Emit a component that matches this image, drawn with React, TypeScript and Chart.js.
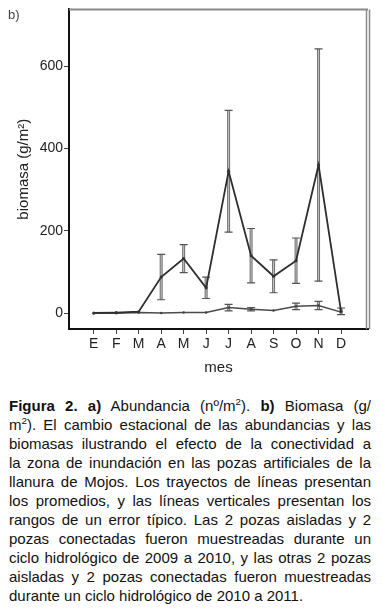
import React, { useEffect, useRef } from 'react';
import { Chart, registerables } from 'chart.js';

Chart.register(...registerables);

const months = ['E', 'F', 'M', 'A', 'M', 'J', 'J', 'A', 'S', 'O', 'N', 'D'];
const connectedMeans = [1, 2, 4, 88, 133, 62, 345, 140, 90, 128, 360, 5];
const connectedErrors = [0, 0, 0, 55, 34, 26, 148, 66, 40, 55, 282, 8];
const isolatedMeans = [0, 0, 2, 1, 2, 2, 14, 10, 7, 17, 19, 3];
const isolatedErrors = [0, 0, 0, 0, 0, 0, 8, 4, 0, 8, 10, 0];
const yTicks = [0, 200, 400, 600];

const FONT = "'Liberation Sans', Arial, sans-serif";

const errorBarPlugin = {
  id: 'errorBars',
  beforeDatasetsDraw(chart: any) {
    const { ctx, scales } = chart;
    const x = scales.x;
    const y = scales.y;
    chart.data.datasets.forEach((ds: any) => {
      const errs: number[] = ds.errors || [];
      ds.data.forEach((pt: any, j: number) => {
        const e = errs[j];
        if (!e) return;
        const px = x.getPixelForValue(pt.x);
        const top = y.getPixelForValue(pt.y + e);
        const bot = y.getPixelForValue(pt.y - e);
        ctx.save();
        ctx.strokeStyle = '#6f6f6f';
        ctx.lineWidth = 3;
        ctx.beginPath();
        ctx.moveTo(px, top);
        ctx.lineTo(px, bot);
        ctx.stroke();
        ctx.strokeStyle = '#c4c4c4';
        ctx.lineWidth = 1;
        ctx.beginPath();
        ctx.moveTo(px, top);
        ctx.lineTo(px, bot);
        ctx.stroke();
        ctx.strokeStyle = '#555';
        ctx.lineWidth = 1.2;
        ctx.beginPath();
        ctx.moveTo(px - 4, top);
        ctx.lineTo(px + 4, top);
        ctx.moveTo(px - 4, bot);
        ctx.lineTo(px + 4, bot);
        ctx.stroke();
        ctx.restore();
      });
    });
  },
};

const framePlugin = {
  id: 'frame',
  afterDraw(chart: any) {
    const { ctx, chartArea } = chart;
    const { left, right, top } = chartArea;
    ctx.save();
    ctx.strokeStyle = '#8a8a8a';
    ctx.lineWidth = 2;
    ctx.beginPath();
    ctx.moveTo(left, top);
    ctx.lineTo(right, top);
    ctx.stroke();
    ctx.lineWidth = 1.5;
    ctx.beginPath();
    ctx.moveTo(right - 1.5, top);
    ctx.lineTo(right - 1.5, chartArea.bottom);
    ctx.moveTo(right + 1.5, top);
    ctx.lineTo(right + 1.5, chartArea.bottom);
    ctx.stroke();
    ctx.restore();
  },
};

const sup: React.CSSProperties = { fontSize: '0.65em', verticalAlign: 'super', lineHeight: 0 };

const captionLines: React.ReactNode[] = [
  <>
    <b>Figura 2. a)</b> Abundancia (nº/m<span style={sup}>2</span>). <b>b)</b> Biomasa (g/
  </>,
  <>
    m<span style={sup}>2</span>). El cambio estacional de las abundancias y las
  </>,
  'biomasas ilustrando el efecto de la conectividad a',
  'la zona de inundación en las pozas artificiales de la',
  'llanura de Mojos. Los trayectos de líneas presentan',
  'los promedios, y las líneas verticales presentan los',
  'rangos de un error típico. Las 2 pozas aisladas y 2',
  'pozas conectadas fueron muestreadas durante un',
  'ciclo hidrológico de 2009 a 2010, y las otras 2 pozas',
  'aisladas y 2 pozas conectadas fueron muestreadas',
  'durante un ciclo hidrológico de 2010 a 2011.',
];

export default function App() {
  const canvasRef = useRef<HTMLCanvasElement | null>(null);

  useEffect(() => {
    document.documentElement.style.overflow = 'hidden';
    document.body.style.overflow = 'hidden';
    document.body.style.margin = '0';
    if (!canvasRef.current) return;
    const chart = new Chart(canvasRef.current, {
      type: 'line',
      data: {
        datasets: [
          {
            label: 'conectadas',
            data: connectedMeans.map((v, i) => ({ x: i, y: v })),
            errors: connectedErrors,
            borderColor: '#2e2e2e',
            borderWidth: 1.8,
            pointRadius: 1.5,
            pointBackgroundColor: '#333',
            pointBorderWidth: 0,
            tension: 0,
          } as any,
          {
            label: 'aisladas',
            data: isolatedMeans.map((v, i) => ({ x: i, y: v })),
            errors: isolatedErrors,
            borderColor: '#4a4a4a',
            borderWidth: 1.5,
            pointRadius: 1.2,
            pointBackgroundColor: '#444',
            pointBorderWidth: 0,
            tension: 0,
          } as any,
        ],
      },
      options: {
        responsive: false,
        animation: false,
        devicePixelRatio: 1,
        layout: { padding: { top: 3, right: 15, left: 0, bottom: 0 } },
        plugins: { legend: { display: false }, tooltip: { enabled: false } },
        scales: {
          x: {
            type: 'linear',
            min: -1.1,
            max: 12.2,
            afterBuildTicks: (s: any) => {
              s.ticks = months.map((_, i) => ({ value: i }));
            },
            afterFit: (s: any) => {
              s.height = 51;
            },
            ticks: {
              autoSkip: false,
              maxRotation: 0,
              padding: 2,
              color: '#222',
              font: { family: FONT, size: 14 },
              callback: (v: any) => months[v as number] ?? '',
            },
            grid: { drawOnChartArea: false, tickLength: 5, color: '#444', tickWidth: 1 },
            border: { color: '#111', width: 2 },
            title: {
              display: true,
              text: 'mes',
              color: '#222',
              font: { family: FONT, size: 15 },
              padding: { top: 0, bottom: 3 },
            },
          },
          y: {
            type: 'linear',
            min: -38,
            max: 738,
            afterBuildTicks: (s: any) => {
              s.ticks = yTicks.map((v) => ({ value: v }));
            },
            afterFit: (s: any) => {
              s.width = 69;
            },
            ticks: {
              padding: 1,
              color: '#222',
              font: { family: FONT, size: 14 },
            },
            grid: { drawOnChartArea: false, tickLength: 5, color: '#444', tickWidth: 1 },
            border: { color: '#111', width: 2 },
            title: {
              display: true,
              text: 'biomasa (g/m²)',
              color: '#222',
              font: { family: FONT, size: 15 },
              padding: { top: 15, bottom: 0 },
            },
          },
        },
      },
      plugins: [errorBarPlugin, framePlugin],
    } as any);
    return () => chart.destroy();
  }, []);

  return (
    <div style={{ width: 383, height: 613, position: 'relative', fontFamily: FONT, overflow: 'hidden' }}>
      <canvas ref={canvasRef} width={383} height={380} style={{ display: 'block' }} />
      <span style={{ position: 'absolute', left: 8, top: 7, fontSize: 13, color: '#444' }}>b)</span>
      <div style={{ position: 'absolute', top: 396, left: 9, width: 362, fontSize: 15, color: '#111' }}>
        {captionLines.map((line, i) => {
          const last = i === captionLines.length - 1;
          return (
            <div
              key={i}
              style={{
                height: 19,
                lineHeight: '19px',
                textAlign: last ? 'left' : 'justify',
                textAlignLast: last ? 'left' : 'justify',
              }}
            >
              {line}
            </div>
          );
        })}
      </div>
    </div>
  );
}
